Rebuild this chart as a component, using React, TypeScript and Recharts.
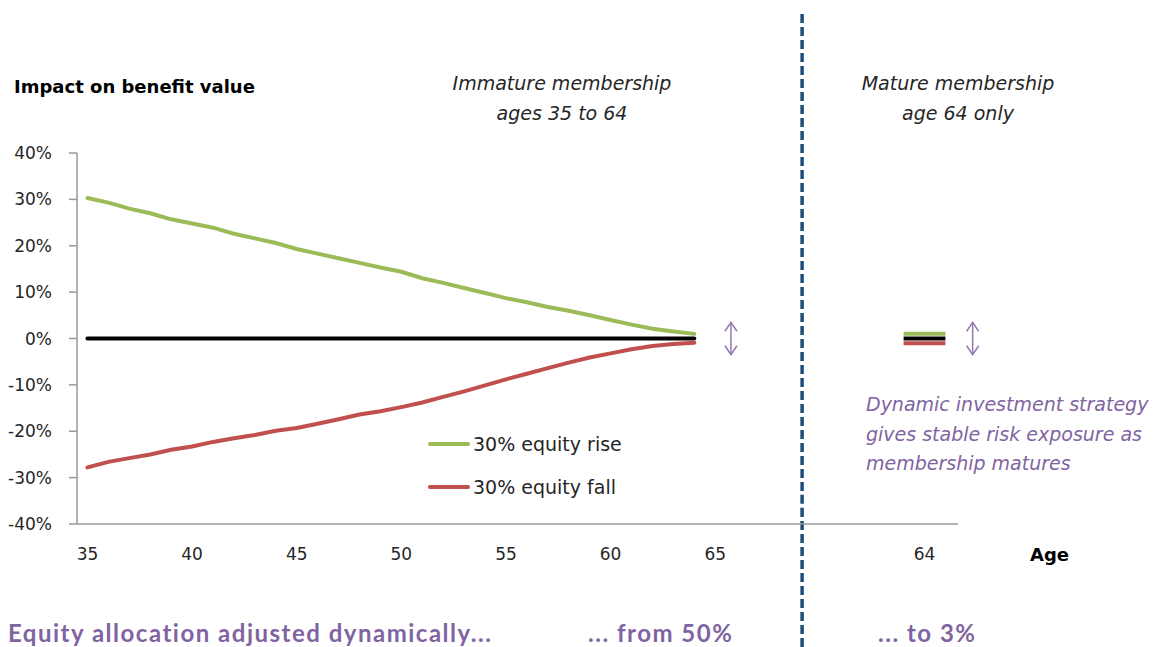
import { LineChart, Line, XAxis, YAxis, ReferenceLine, Legend } from 'recharts'

// Member ages for the immature membership run
const ages = [
  35, 36, 37, 38, 39, 40, 41, 42, 43, 44, 45, 46, 47, 48, 49,
  50, 51, 52, 53, 54, 55, 56, 57, 58, 59, 60, 61, 62, 63, 64,
]

// Impact on benefit value (%) of a 30% equity move, by age
const equityRise = [
  30.3, 29.3, 28.0, 27.0, 25.7, 24.8, 23.9, 22.6, 21.6, 20.6, 19.3, 18.3, 17.3, 16.3, 15.3,
  14.4, 13.0, 12.0, 10.9, 9.8, 8.7, 7.8, 6.8, 6.0, 5.0, 4.0, 3.0, 2.1, 1.5, 1.0,
]
const equityFall = [
  -27.8, -26.6, -25.8, -25.0, -24.0, -23.3, -22.3, -21.5, -20.8, -19.9, -19.3, -18.4, -17.4, -16.4, -15.7,
  -14.8, -13.8, -12.6, -11.4, -10.1, -8.8, -7.6, -6.4, -5.2, -4.1, -3.2, -2.3, -1.6, -1.2, -0.9,
]

// Mature membership (everyone aged 64), drawn in its own slot right of the divider
const matureSlot = [74, 76]
const matureRise = [1.0, 1.0]
const matureFall = [-1.0, -1.0]

const yTicks = [-40, -30, -20, -10, 0, 10, 20, 30, 40]
const xTicks = [35, 40, 45, 50, 55, 60, 65, 75]
const xTickLabels = ['35', '40', '45', '50', '55', '60', '65', '64']

const seriesNames = ['30% equity rise', '30% equity fall']

// divider between the two panels and the double arrows
const dividerAt = 69.15
const arrowAt = [65.75, 77.3]
const arrowSpan = 3.5

const GREEN = '#9BBB59'
const RED = '#C0504D'
const PURPLE = '#8064A2'
const TEXT = '#262626'
const FONT = '"DejaVu Sans", sans-serif'

const immature = ages.map((age, i) => ({
  age,
  rise: equityRise[i],
  fall: equityFall[i],
  base: 0,
}))

const mature = matureSlot.map((age, i) => ({
  age,
  rise: matureRise[i],
  fall: matureFall[i],
  base: 0,
}))

const DoubleArrow = (props: any) => {
  const { x1, y1, y2 } = props
  const top = Math.min(y1, y2)
  const bottom = Math.max(y1, y2)
  return (
    <g stroke={PURPLE} strokeWidth={1.5} fill="none" opacity={0.85}>
      <line x1={x1} y1={top} x2={x1} y2={bottom} />
      <polyline points={`${x1 - 6},${top + 9} ${x1},${top} ${x1 + 6},${top + 9}`} />
      <polyline points={`${x1 - 6},${bottom - 9} ${x1},${bottom} ${x1 + 6},${bottom - 9}`} />
    </g>
  )
}

const LegendBox = ({ payload }: any) => {
  const items = seriesNames
    .map((name) => (payload || []).find((p: any) => p.value === name && p.type !== 'none'))
    .filter(Boolean)
  return (
    <div style={{ fontFamily: FONT, fontSize: 19, color: TEXT }}>
      {items.map((entry: any) => (
        <div key={entry.value} style={{ display: 'flex', alignItems: 'center', height: 43 }}>
          <span
            style={{
              display: 'inline-block',
              width: 42,
              height: 4,
              borderRadius: 2,
              background: entry.color,
              marginRight: 3,
            }}
          />
          <span style={{ whiteSpace: 'nowrap' }}>{entry.value}</span>
        </div>
      ))}
    </div>
  )
}

const abs = (left: number, top: number, extra: any = {}) => ({
  position: 'absolute' as const,
  left,
  top,
  whiteSpace: 'nowrap' as const,
  ...extra,
})

const footer = { fontFamily: 'Lato, sans-serif', fontWeight: 700, fontSize: 24, lineHeight: '24px', letterSpacing: 1.5, color: PURPLE }

export default function App() {
  return (
    <div style={{ position: 'absolute', left: 0, top: 0, width: 1156, height: 647, background: '#fff', overflow: 'hidden' }}>
      <LineChart
        width={1156}
        height={647}
        margin={{ top: 153, right: 198, bottom: 83, left: 7 }}
        style={{ position: 'absolute', left: 0, top: 0 }}
      >
        <XAxis
          type="number"
          dataKey="age"
          domain={[34.5, 76.6]}
          ticks={xTicks}
          tickFormatter={(v: number) => xTickLabels[xTicks.indexOf(v)]}
          allowDataOverflow
          height={40}
          tickLine={false}
          tickMargin={18}
          axisLine={{ stroke: '#9a9a9a', strokeWidth: 1.5 }}
          tick={{ fill: TEXT, fontSize: 17, fontFamily: FONT }}
        />
        <YAxis
          type="number"
          domain={[-40, 40]}
          ticks={yTicks}
          width={70}
          tickSize={8}
          tickMargin={17}
          tickFormatter={(v: number) => `${v}%`}
          axisLine={{ stroke: '#9a9a9a', strokeWidth: 1.5 }}
          tickLine={{ stroke: '#9a9a9a', strokeWidth: 1.5 }}
          tick={{ fill: TEXT, fontSize: 17, fontFamily: FONT }}
        />
        <Legend
          layout="horizontal"
          align="center"
          verticalAlign="middle"
          content={<LegendBox />}
          wrapperStyle={{ left: 428, top: 422, width: 260 }}
        />
        <Line data={immature} dataKey="rise" name={seriesNames[0]} stroke={GREEN} strokeWidth={4} strokeLinecap="round" dot={false} isAnimationActive={false} />
        <Line data={immature} dataKey="fall" name={seriesNames[1]} stroke={RED} strokeWidth={4} strokeLinecap="round" dot={false} isAnimationActive={false} />
        <Line data={immature} dataKey="base" stroke="#000" strokeWidth={4} strokeLinecap="round" dot={false} legendType="none" isAnimationActive={false} />
        <Line data={mature} dataKey="rise" stroke={GREEN} strokeWidth={4} dot={false} legendType="none" isAnimationActive={false} />
        <Line data={mature} dataKey="fall" stroke={RED} strokeWidth={4} dot={false} legendType="none" isAnimationActive={false} />
        <Line data={mature} dataKey="base" stroke="#000" strokeWidth={4} dot={false} legendType="none" isAnimationActive={false} />
        <ReferenceLine
          segment={[{ x: dividerAt, y: 70 }, { x: dividerAt, y: -68 }]}
          stroke="#1F4E79"
          strokeWidth={3.5}
          strokeDasharray="9 4"
          ifOverflow="visible"
        />
        {arrowAt.map((x) => (
          <ReferenceLine
            key={x}
            segment={[{ x, y: arrowSpan }, { x, y: -arrowSpan }]}
            ifOverflow="visible"
            shape={DoubleArrow}
          />
        ))}
      </LineChart>

      <div style={abs(14, 78, { fontFamily: FONT, fontWeight: 700, fontSize: 18, lineHeight: '18px', color: '#000' })}>
        Impact on benefit value
      </div>

      <div style={abs(412, 68, { width: 300, textAlign: 'center', fontFamily: FONT, fontStyle: 'italic', fontSize: 19, lineHeight: '30px', color: TEXT })}>
        Immature membership
        <br />
        ages 35 to 64
      </div>
      <div style={abs(808, 68, { width: 300, textAlign: 'center', fontFamily: FONT, fontStyle: 'italic', fontSize: 19, lineHeight: '30px', color: TEXT })}>
        Mature membership
        <br />
        age 64 only
      </div>

      <div style={abs(866, 390, { fontFamily: FONT, fontStyle: 'italic', fontSize: 19, lineHeight: '29.5px', color: PURPLE })}>
        Dynamic investment strategy
        <br />
        gives stable risk exposure as
        <br />
        membership matures
      </div>

      <div style={abs(1030, 546, { fontFamily: FONT, fontWeight: 700, fontSize: 18, lineHeight: '18px', color: '#000' })}>
        Age
      </div>

      <div style={abs(8, 621, footer)}>Equity allocation adjusted dynamically...</div>
      <div style={abs(588, 621, footer)}>... from 50%</div>
      <div style={abs(878, 621, footer)}>... to 3%</div>
    </div>
  )
}
